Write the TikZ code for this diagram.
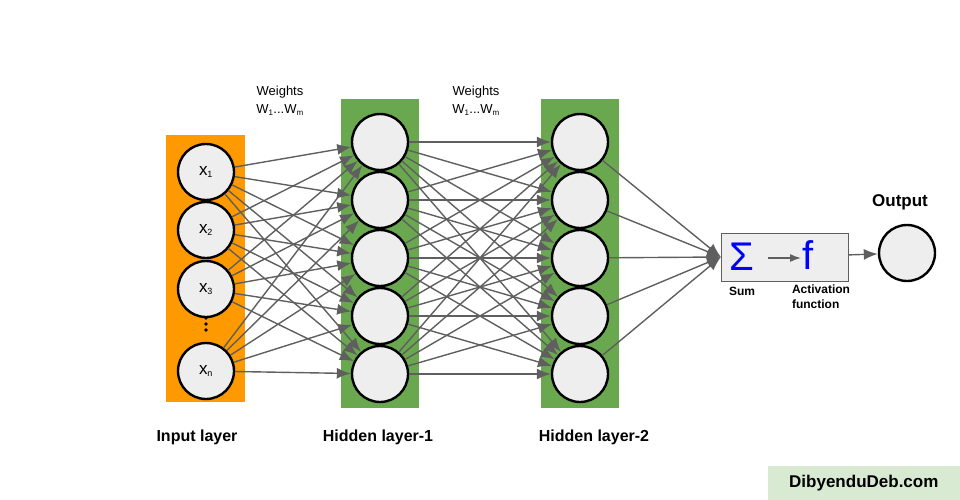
\documentclass[tikz,border=0pt]{standalone}
\usepackage{fontspec}
\setmainfont{Liberation Sans}
\usetikzlibrary{arrows.meta}
\definecolor{inorange}{RGB}{255,153,0}
\definecolor{hidgreen}{RGB}{106,168,79}
\definecolor{nodegray}{RGB}{238,238,238}
\definecolor{wirgray}{RGB}{95,95,95}
\definecolor{markgreen}{RGB}{217,234,211}
\newcommand{\fsz}[1]{\fontsize{#1}{#1}\selectfont}
\begin{document}
\begin{tikzpicture}
[x=1pt,y=-1pt,
 neuron/.style={circle,draw=black,line width=2.4pt,fill=nodegray,minimum size=56pt,inner sep=0pt,font=\fsz{17}},
 wire/.style={draw=wirgray,line width=1.4pt,-{Latex[length=14pt,width=11pt]}},
 layer/.style={font=\bfseries\fsz{16}},
 small/.style={font=\fontsize{13}{18}\selectfont,align=center}]
\useasboundingbox (0,0) rectangle (960,500);
% layer backgrounds
\fill[inorange] (166,135) rectangle (245,402);
\fill[hidgreen] (341,99) rectangle (419,408);
\fill[hidgreen] (541,99) rectangle (619,408);
% input layer
\node[neuron] (x1) at (206,172) {x\textsubscript{\fsz{9}1}};
\node[neuron] (x2) at (206,230) {x\textsubscript{\fsz{9}2}};
\node[neuron] (x3) at (206,289) {x\textsubscript{\fsz{9}3}};
\node[neuron] (xn) at (206,371) {x\textsubscript{\fsz{9}n}};
\foreach \y in {318,324,330} \fill (206,\y) circle (1.8pt);
% hidden layers
\foreach \i/\y in {1/142,2/200,3/258,4/316,5/374} {
  \node[neuron] (h\i) at (380,\y) {};
  \node[neuron] (g\i) at (580,\y) {};
}
% sum and output
\node[draw=wirgray,fill=nodegray,minimum width=127pt,minimum height=48pt] (sum) at (784.5,257) {};
\node[text=blue,font=\fsz{40}] (sig) at (742,257) {Σ};
\node[text=blue,font=\fsz{40}] (f) at (808,255) {f};
\coordinate (sa) at (768,258);
\coordinate (fa) at (801,258);
\draw[wire,-{Latex[length=11pt,width=8pt]}] (sa) -- (fa);
\node[neuron] (out) at (907,253) {};
\draw[wire] (sum) -- (out);
% connections
\foreach \a in {x1,x2,x3,xn} \foreach \i in {1,...,5} \draw[wire] (\a) -- (h\i);
\foreach \a in {1,...,5} \foreach \i in {1,...,5} \draw[wire] (h\a) -- (g\i);
\foreach \a in {1,...,5} \draw[wire] (g\a) -- (sum.west);
% labels
\node[small] (w1) at (280,101) {Weights\\W\textsubscript{\fsz{8}1}...W\textsubscript{\fsz{8}m}};
\node[small] (w2) at (476,101) {Weights\\W\textsubscript{\fsz{8}1}...W\textsubscript{\fsz{8}m}};
\node[layer] (lin) at (197,437) {Input layer};
\node[layer] (lh1) at (378,437) {Hidden layer-1};
\node[layer] (lh2) at (594,437) {Hidden layer-2};
\node[layer,font=\bfseries\fsz{17}] (lout) at (900,202) {Output};
\node[font=\bfseries\fsz{12}] (lsum) at (742,291) {Sum};
\node[font=\bfseries\fontsize{12}{15}\selectfont,align=left] (lact) at (821,297) {Activation\\function};
% watermark
\node[fill=markgreen,minimum width=192pt,minimum height=34pt,font=\bfseries\fsz{17},anchor=south east] (mark) at (960,500) {DibyenduDeb.com};
\end{tikzpicture}
\end{document}
